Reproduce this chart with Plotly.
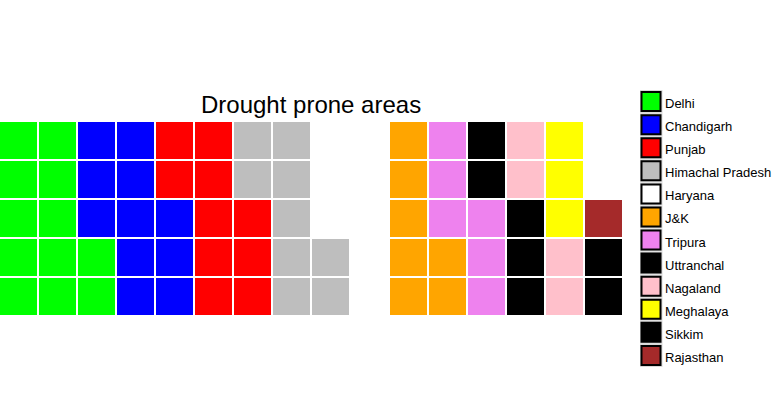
import plotly.graph_objects as go

# ---- data ----
categories = ["Delhi", "Chandigarh", "Punjab", "Himachal Pradesh", "Haryana", "J&K",
              "Tripura", "Uttranchal", "Nagaland", "Meghalaya", "Sikkim", "Rajasthan"]
values = [12, 11, 10, 9, 8, 7, 6, 5, 4, 3, 2, 1]
colors = ["#00FF00", "#0000FF", "#FF0000", "#BEBEBE", "#FFFFFF", "#FFA500",
          "#EE82EE", "#000000", "#FFC0CB", "#FFFF00", "#000000", "#A52A2A"]
n_rows = 5
title_text = "Drought prone areas"

# ---- build waffle grid (column-major, bottom to top) ----
total = sum(values)
n_cols = -(-total // n_rows)
z = [[None] * n_cols for _ in range(n_rows)]
k = 0
for ci, v in enumerate(values):
    for _ in range(v):
        z[k % n_rows][k // n_rows] = ci
        k += 1

nc = len(categories)
cscale = []
for i, c in enumerate(colors):
    cscale.append([i / nc, c])
    cscale.append([(i + 1) / nc, c])

W, H = 783, 416
fig = go.Figure()
fig.add_trace(go.Heatmap(
    z=z, x=list(range(n_cols)), y=list(range(n_rows)),
    colorscale=cscale, zmin=-0.5, zmax=nc - 0.5, showscale=False,
    xgap=2, ygap=2, hoverinfo="skip", xaxis="x", yaxis="y"))

# legend (manual, via scatter on its own axes)
idx = list(range(nc))
fig.add_trace(go.Scatter(
    x=[0] * nc, y=idx, mode="markers",
    marker=dict(symbol="square", size=23, color="#D9D9D9", line=dict(width=0)),
    hoverinfo="skip", xaxis="x2", yaxis="y2", showlegend=False))
fig.add_trace(go.Scatter(
    x=[0] * nc, y=idx, mode="markers",
    marker=dict(symbol="square", size=19, color=colors, line=dict(width=2, color="black")),
    hoverinfo="skip", xaxis="x2", yaxis="y2", showlegend=False))

annotations = [dict(text=title_text, x=311 / W, y=(H - 104) / H, xref="paper", yref="paper",
                    xanchor="center", yanchor="middle", showarrow=False,
                    font=dict(family="Liberation Sans, Arial", size=24, color="black"))]
for i, cat in enumerate(categories):
    annotations.append(dict(text=cat, x=0, y=i, xref="x2", yref="y2", xanchor="left",
                            yanchor="middle", xshift=12, yshift=-2, showarrow=False,
                            font=dict(family="Liberation Sans, Arial", size=13, color="black")))

ax = dict(showgrid=False, zeroline=False, showticklabels=False, ticks="", showline=False, fixedrange=True)
d = 1 / 39
fig.update_layout(
    width=W, height=H, margin=dict(l=0, r=0, t=0, b=0),
    paper_bgcolor="white", plot_bgcolor="white", showlegend=False,
    xaxis=dict(domain=[0, 624 / W], range=[-0.5 + d, n_cols - 0.5 + d], **ax),
    yaxis=dict(domain=[(H - 316) / H, (H - 121) / H], range=[-0.5, n_rows - 0.5], **ax),
    xaxis2=dict(domain=[640 / W, 1], range=[-0.5, 6], anchor="y2", **ax),
    yaxis2=dict(domain=[(H - 367) / H, (H - 90) / H], range=[nc - 0.5, -0.5], anchor="x2", **ax),
    annotations=annotations,
)
fig.write_html("out.html", config={"displayModeBar": False},
               post_script="document.body.style.margin='0px';document.body.style.overflow='hidden';")
